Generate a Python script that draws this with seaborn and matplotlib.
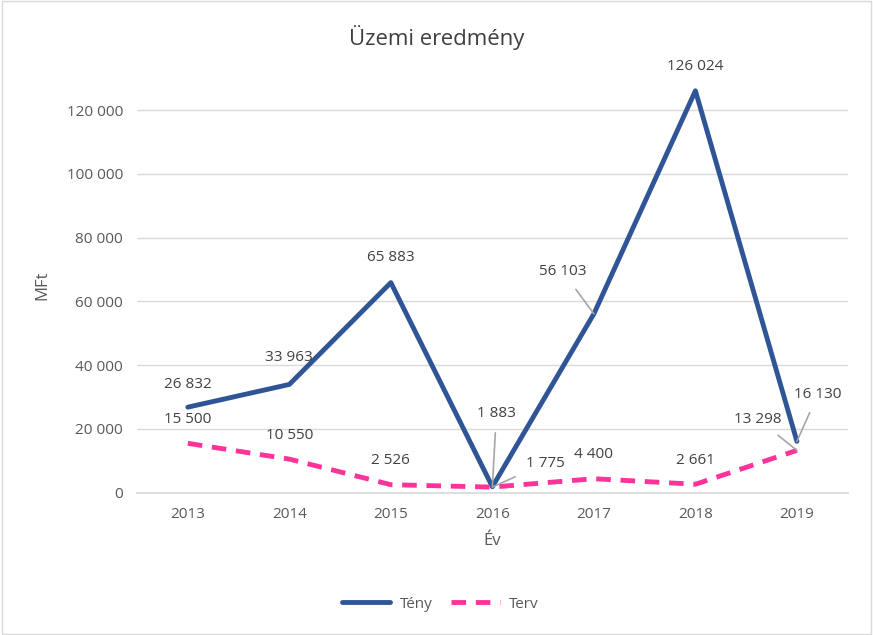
import pandas as pd
import seaborn as sns
import matplotlib.pyplot as plt
from matplotlib.patches import Rectangle

years = ["2013", "2014", "2015", "2016", "2017", "2018", "2019"]
teny = [26832, 33963, 65883, 1883, 56103, 126024, 16130]
terv = [15500, 10550, 2526, 1775, 4400, 2661, 13298]

teny_off = [(0, 23), (0, 27), (0, 25), (4, 73), (-31, 42), (0, 24), (21, 47)]
teny_leader = [False, False, False, True, True, False, True]
terv_off = [(0, 24), (0, 24), (0, 24), (53, 24), (0, 24), (0, 24), (-39, 31)]
terv_leader = [False, False, False, True, False, False, True]


def fmt(v):
    return f"{v:,}".replace(",", " ")


df = pd.DataFrame({"Év": years, "Tény": teny, "Terv": terv})
long = df.melt(id_vars="Év", var_name="Sor", value_name="MFt")

plt.rcParams["font.family"] = "Open Sans"
sns.set_theme(style="white", font="Open Sans")
fig = plt.figure(figsize=(8.73, 6.35), dpi=100)
ax = fig.add_axes([0.157, 0.224, 0.814, 0.653])

colors = {"Tény": "#2F5597", "Terv": "#FF3399"}
sns.lineplot(data=long, x="Év", y="MFt", hue="Sor", style="Sor", palette=colors,
             dashes={"Tény": "", "Terv": (3, 2)}, linewidth=3.5, ax=ax, legend=True)

ax.set_xlim(-0.5, 6.5)
ax.set_ylim(0, 130000)
ax.set_yticks(range(0, 130000, 20000))
ax.yaxis.set_major_formatter(plt.FuncFormatter(lambda v, p: fmt(int(v))))
for y in range(20000, 130000, 20000):
    ax.axhline(y, color="#D9D9D9", lw=1, zorder=0)
for s in ["top", "right", "left"]:
    ax.spines[s].set_visible(False)
ax.spines["bottom"].set_color("#D9D9D9")
ax.tick_params(axis="both", colors="#595959", labelsize=11, length=0, pad=10)
ax.set_xlabel("Év", fontsize=12, color="#595959", labelpad=8)
ax.set_ylabel("MFt", fontsize=12, color="#595959", labelpad=12)
fig.text(0.5, 1 - 38 / 635, "Üzemi eredmény", fontsize=16, color="#404040",
         ha="center", va="center")

for vals, offs, leads in [(teny, teny_off, teny_leader), (terv, terv_off, terv_leader)]:
    for i, v in enumerate(vals):
        dx, dy = offs[i]
        ax.annotate(fmt(v), xy=(i, v), xytext=(dx, dy), textcoords="offset pixels",
                    ha="center", va="center", fontsize=11, color="#404040",
                    arrowprops=dict(arrowstyle="-", color="#A6A6A6", lw=1.2,
                                    shrinkA=6, shrinkB=0) if leads[i] else None)

h, l = ax.get_legend_handles_labels()
ax.legend(h, l, loc="center", ncol=2, frameon=False, fontsize=11, handlelength=3.2,
          columnspacing=1.2, handletextpad=0.6, labelcolor="#595959",
          bbox_to_anchor=(440 / 873, 1 - 604 / 635), bbox_transform=fig.transFigure)

fig.patches.append(Rectangle((0.002, 0.002), 0.996, 0.996, transform=fig.transFigure,
                             fill=False, edgecolor="#D9D9D9", lw=1))
fig.savefig("out.png", dpi=100)
